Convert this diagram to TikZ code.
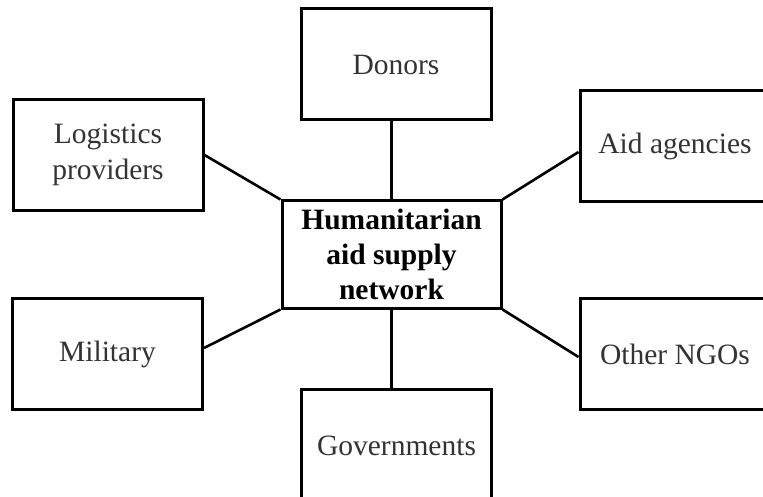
\documentclass[tikz,border=0pt]{standalone}
\usepackage{fontspec}
\setmainfont{Liberation Serif}
\usetikzlibrary{positioning}

\begin{document}
\begin{tikzpicture}[x=1pt,y=1pt,line width=2.6pt]
        \tikzstyle{actor}=[draw, line width=3pt, minimum width=190pt, minimum height=111pt,
                           align=center, text=black!80, font=\fontsize{29.5}{36}\selectfont]
        \tikzstyle{hub}=[actor, minimum width=219pt, minimum height=107pt, text=black,
                         font=\fontsize{29.5}{35}\selectfont\bfseries]

        \useasboundingbox (0,0) rectangle (763,-497);

        \node[hub]   (H)                        at (391.5,-254.5) {Humanitarian\\aid supply\\network};
        \node[actor] (Don)                      at (396,-64.5)    {Donors};
        \node[actor] (Log)                      at (108,-155)     {Logistics\\providers};
        \node[actor] (Aid)                      at (675,-146)     {Aid agencies};
        \node[actor] (Mil)                      at (107.5,-354)   {Military};
        \node[actor] (NGO)                      at (675,-354)     {Other NGOs};
        \node[actor, minimum height=113pt] (Gov) at (396.5,-446)  {Governments};

        \path (H.north)      edge (H.north |- Don.south)
              (H.north west) edge (Log.east)
              (H.north east) edge ([yshift=-6pt]Aid.west)
              (H.south west) edge ([yshift=6pt]Mil.east)
              (H.south east) edge ([yshift=-3pt]NGO.west)
              (H.south)      edge (H.south |- Gov.north);
\end{tikzpicture}
\end{document}
